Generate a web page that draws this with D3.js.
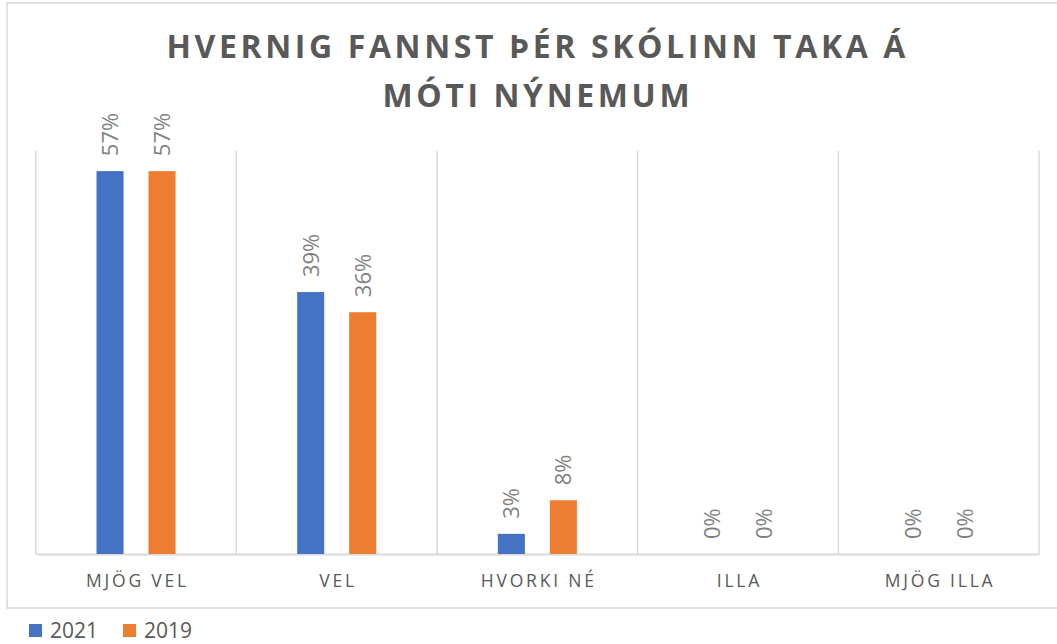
<!doctype html>
<html>
  <head>
    <meta charset="utf-8">
    <title>Hvernig fannst þér skólinn taka á móti nýnemum</title>
    <script src="https://cdn.jsdelivr.net/npm/d3@7"></script>
    <style>
      body { margin: 0; background: #fff; }
      text { font-family: "Open Sans", "Noto Sans", sans-serif; }
    </style>
  </head>
  <body>
    <script>
      const categories = ['MJÖG VEL', 'VEL', 'HVORKI NÉ', 'ILLA', 'MJÖG ILLA'];
      const seriesNames = ['2021', '2019'];
      const values2021 = [57, 39, 3, 0, 0];
      const values2019 = [57, 36, 8, 0, 0];
      const seriesColors = ['#4472C4', '#ED7D31'];
      const titleLines = ['HVERNIG FANNST ÞÉR SKÓLINN TAKA Á', 'MÓTI NÝNEMUM'];

      const width = 1057;
      const height = 644;
      const plot = { left: 35.7, right: 1039, top: 151, bottom: 554 };

      const rows = categories.map((c, i) => ({ cat: c, '2021': values2021[i], '2019': values2019[i] }));

      const svg = d3.select('body').append('svg')
          .attr('width', width)
          .attr('height', height);

      // chart frame (right edge runs off the page)
      svg.append('rect')
          .attr('x', 7).attr('y', 3)
          .attr('width', 1070).attr('height', 605)
          .attr('fill', 'none')
          .attr('stroke', '#d9d9d9')
          .attr('stroke-width', 1.5);

      // title
      svg.append('g').selectAll('text')
        .data(titleLines)
        .enter().append('text')
          .attr('x', 536 + 1.8)
          .attr('y', (d, i) => 58 + i * 49)
          .attr('text-anchor', 'middle')
          .attr('font-size', 32)
          .attr('font-weight', 'bold')
          .attr('letter-spacing', 3.6)
          .attr('fill', '#595959')
          .text(d => d);

      const x0 = d3.scaleBand()
          .domain(categories)
          .range([plot.left, plot.right]);
      const bw = x0.bandwidth();

      const x1 = d3.scaleBand()
          .domain(seriesNames)
          .range([bw / 2 - 52, bw / 2 + 52])
          .paddingInner(0.48)
          .paddingOuter(0.24);

      const y = d3.scaleLinear()
          .domain([0, 60])
          .range([plot.bottom, plot.top]);

      // vertical gridlines at the category edges
      const edges = categories.map(c => x0(c)).concat([plot.right]);
      svg.append('g').selectAll('line')
        .data(edges)
        .enter().append('line')
          .attr('x1', d => d).attr('x2', d => d)
          .attr('y1', plot.top).attr('y2', plot.bottom)
          .attr('stroke', '#d9d9d9')
          .attr('stroke-width', 1.5);

      // category axis
      const xAxis = svg.append('g')
          .attr('transform', `translate(0,${plot.bottom})`)
          .call(d3.axisBottom(x0).tickSize(0).tickPadding(0));
      xAxis.select('.domain')
          .attr('stroke', '#d9d9d9')
          .attr('stroke-width', 2);
      xAxis.selectAll('.tick text')
          .attr('y', 33)
          .attr('dy', 0)
          .attr('dx', 1.4)
          .attr('font-size', 17.5)
          .attr('letter-spacing', 2.8)
          .attr('fill', '#595959')
          .style('font-family', '"Open Sans", sans-serif');

      // bars + rotated value labels
      const groups = svg.append('g').selectAll('g')
        .data(rows)
        .enter().append('g')
          .attr('transform', d => `translate(${x0(d.cat)},0)`);

      groups.selectAll('rect')
        .data(d => seriesNames.map((s, i) => ({ key: s, value: d[s], color: seriesColors[i] })))
        .enter().append('rect')
          .attr('x', d => x1(d.key))
          .attr('width', x1.bandwidth())
          .attr('y', d => y(d.value))
          .attr('height', d => y(0) - y(d.value))
          .attr('fill', d => d.color);

      groups.selectAll('text')
        .data(d => seriesNames.map(s => ({ key: s, value: d[s] })))
        .enter().append('text')
          .attr('transform', d => `translate(${x1(d.key) + x1.bandwidth() / 2},${y(d.value) - 15}) rotate(-90)`)
          .attr('dy', '0.36em')
          .attr('font-size', 22)
          .attr('fill', '#7f7f7f')
          .text(d => d.value + '%');

      // legend
      const legend = svg.append('g').selectAll('g')
        .data(seriesNames)
        .enter().append('g')
          .attr('transform', (d, i) => `translate(${29 + i * 94},624)`);
      legend.append('rect')
          .attr('width', 13).attr('height', 13)
          .attr('fill', (d, i) => seriesColors[i]);
      legend.append('text')
          .attr('x', 21)
          .attr('y', 14)
          .attr('font-size', 21)
          .attr('fill', '#595959')
          .text(d => d);
    </script>
  </body>
</html>
